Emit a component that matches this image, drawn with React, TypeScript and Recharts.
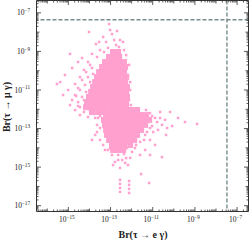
import React from "react";
import { ScatterChart, Scatter, XAxis, YAxis, ReferenceLine } from "recharts";

// exponents (log10)
const X_MAJOR = [-15, -13, -11, -9, -7];
const Y_MAJOR = [-17, -15, -13, -11, -9, -7];
const X_DOMAIN: [number, number] = [-16.51, -6.46];
const Y_DOMAIN: [number, number] = [-17.3, -6.36];

// experimental limits (dashed)
const LIMIT_E = 3.3e-8;
const LIMIT_MU = 4.4e-8;

// dense parts of the two clouds, row by row: y exponent, x exponents
const upperCoreRows = [
  { y: -9.03, x: [-12.88, -12.64] },
  { y: -9.29, x: [-13.07, -12.83, -12.59] },
  { y: -9.55, x: [-13.26, -13.02, -12.79, -12.55, -12.36] },
  { y: -9.81, x: [-13.4, -13.17, -12.93, -12.69, -12.45, -12.31] },
  { y: -10.07, x: [-13.54, -13.31, -13.07, -12.83, -12.59, -12.36] },
  { y: -10.33, x: [-13.64, -13.4, -13.17, -12.93, -12.69, -12.45, -12.26] },
  { y: -10.59, x: [-13.73, -13.5, -13.26, -13.02, -12.79, -12.55, -12.31] },
  { y: -10.85, x: [-13.83, -13.59, -13.35, -13.12, -12.88, -12.64, -12.4, -12.22] },
  { y: -11.1, x: [-13.92, -13.69, -13.45, -13.21, -12.97, -12.74, -12.5, -12.26] },
  { y: -11.36, x: [-14.02, -13.78, -13.54, -13.31, -13.07, -12.83, -12.59, -12.36, -12.22] },
  { y: -11.63, x: [-14.11, -13.88, -13.64, -13.4, -13.17, -12.93, -12.69, -12.45, -12.26] },
  { y: -11.89, x: [-14.16, -13.92, -13.69, -13.45, -13.21, -12.97, -12.74, -12.5, -12.26] },
  { y: -12.14, x: [-13.88, -13.59, -13.31, -13.02, -12.74] },
];

const lowerCoreRows = [
  { y: -12.04, x: [-12.93, -12.69, -12.45, -12.22, -11.98, -11.74] },
  { y: -12.3, x: [-13.21, -12.97, -12.74, -12.5, -12.26, -12.03, -11.79, -11.55, -11.31] },
  { y: -12.55, x: [-13.31, -13.07, -12.83, -12.59, -12.36, -12.12, -11.88, -11.65, -11.41, -11.17] },
  { y: -12.81, x: [-13.26, -13.02, -12.79, -12.55, -12.31, -12.07, -11.84, -11.6, -11.36] },
  { y: -13.07, x: [-13.21, -12.97, -12.74, -12.5, -12.26, -12.03, -11.79, -11.55] },
  { y: -13.33, x: [-13.17, -12.93, -12.69, -12.45, -12.22, -11.98, -11.74] },
  { y: -13.59, x: [-13.07, -12.83, -12.59, -12.36, -12.12, -11.88] },
  { y: -13.85, x: [-12.93, -12.64, -12.36, -12.07] },
  { y: -14.11, x: [-12.88, -12.64, -12.4] },
];

// scattered points around the clouds: [x exponent, y exponent]
const upperSparse: [number, number][] = [
  [-13.07, -7.58], [-14.02, -7.99], [-12.93, -8.1], [-13.35, -8.25], [-12.55, -8.41],
  [-13.69, -8.62], [-13.21, -8.51], [-12.74, -8.67], [-12.36, -8.93], [-13.5, -8.93],
  [-13.88, -9.13], [-14.35, -9.34], [-14.92, -9.13], [-14.54, -9.55], [-14.07, -9.55],
  [-13.64, -9.29], [-12.26, -9.19], [-14.82, -9.86], [-14.26, -9.96], [-13.88, -9.86],
  [-15.16, -10.22], [-14.45, -10.33], [-14.07, -10.33], [-15.39, -10.59], [-15.54, -10.69],
  [-14.68, -10.69], [-14.21, -10.74], [-15.01, -11.0], [-14.45, -11.0], [-15.25, -11.26],
  [-14.68, -11.26], [-14.35, -11.36], [-14.82, -11.52], [-14.54, -11.63], [-14.92, -11.78],
  [-14.45, -11.89], [-14.68, -12.04], [-14.26, -12.14], [-14.45, -12.3], [-14.07, -12.4],
  [-13.73, -12.45], [-12.07, -11.0], [-12.12, -11.52], [-12.17, -10.22],
  [-13.97, -9.7], [-14.16, -10.07], [-13.83, -10.17], [-14.35, -10.48], [-13.97, -10.59],
  [-14.54, -10.9], [-14.16, -11.1], [-14.63, -11.31], [-14.26, -11.52], [-13.97, -12.04],
  [-14.54, -11.83], [-13.78, -12.24], [-13.5, -12.35], [-13.21, -12.35], [-12.93, -12.4],
  [-12.64, -12.35], [-13.12, -8.82], [-12.83, -8.41], [-12.6, -8.77], [-13.31, -9.03],
  [-12.41, -8.51], [-13.02, -7.89], [-12.69, -7.94], [-13.54, -8.51], [-12.12, -9.7],
  [-12.07, -10.59], [-12.17, -11.26], [-12.03, -11.78],
];

const lowerSparse: [number, number][] = [
  [-11.13, -12.2], [-10.89, -12.45], [-10.65, -12.14], [-10.42, -12.55], [-10.18, -12.14],
  [-9.8, -12.45], [-10.56, -12.81], [-10.08, -12.87], [-10.75, -13.07], [-10.37, -13.33],
  [-8.9, -12.76], [-9.47, -12.66], [-11.13, -13.59], [-10.89, -13.85], [-10.56, -14.48],
  [-11.13, -14.37], [-11.36, -14.11], [-11.6, -14.37], [-11.27, -13.18], [-11.03, -12.87],
  [-11.41, -13.59], [-11.79, -13.85], [-12.64, -14.37], [-12.45, -14.63], [-12.26, -14.53],
  [-12.79, -14.11], [-13.12, -14.11], [-12.79, -14.73], [-12.55, -15.04], [-12.17, -14.89],
  [-11.98, -14.21], [-11.55, -15.36], [-11.17, -15.82], [-12.55, -15.66], [-12.55, -15.87],
  [-12.55, -16.08], [-12.55, -16.28], [-12.12, -15.72], [-12.12, -15.92], [-12.12, -16.13],
  [-12.12, -16.34], [-13.88, -13.59], [-13.64, -13.18], [-13.5, -12.97], [-13.73, -13.33],
  [-13.02, -14.01], [-12.74, -13.9], [-12.45, -14.11], [-12.22, -14.01], [-12.93, -14.37],
  [-12.36, -14.32], [-12.64, -14.63], [-12.88, -14.89], [-12.31, -14.78], [-12.07, -14.52],
  [-11.32, -12.04], [-11.03, -12.35], [-11.22, -12.66], [-10.79, -12.66], [-10.98, -13.18],
  [-10.65, -12.45], [-10.32, -12.97], [-11.36, -13.33], [-11.13, -12.97], [-11.6, -13.69],
  [-11.84, -14.01], [-13.59, -12.45], [-13.5, -13.59], [-13.35, -13.85], [-13.64, -12.81],
  [-13.26, -14.11],
];

const PINK = "#ffa0cf";
const FRAME = "#333";
const SERIF = "'Liberation Serif', 'DejaVu Serif', serif";

const rowsToPoints = (rows: { y: number; x: number[] }[]) =>
  rows.flatMap((r) => r.x.map((x) => ({ x, y: r.y })));
const pairsToPoints = (pairs: [number, number][]) => pairs.map(([x, y]) => ({ x, y }));

// log ticks: every decade plus the 2..9 sub-ticks
function logTicks([lo, hi]: [number, number]) {
  const out: number[] = [];
  for (let d = Math.floor(lo); d <= Math.ceil(hi); d++) {
    for (let k = 1; k <= 9; k++) {
      const v = d + Math.log10(k);
      if (v >= lo && v <= hi) out.push(v);
    }
  }
  return out;
}

function tickLen(v: number, majors: number[]) {
  const isDecade = Math.abs(v - Math.round(v)) < 1e-6;
  if (isDecade && majors.includes(Math.round(v))) return 4.5;
  if (isDecade) return 3;
  return 2;
}

function Label10({ x, y, exp, anchor }: { x: number; y: number; exp: number; anchor: "middle" | "end" }) {
  return (
    <text x={x} y={y} textAnchor={anchor} fontFamily={SERIF} fontSize={7.5} fill="#222">
      10
      <tspan dy={-3.2} fontSize={5.2}>{`\u2212${-exp}`}</tspan>
    </text>
  );
}

function BottomTick({ x, y, payload }: any) {
  const v = payload.value;
  const len = tickLen(v, X_MAJOR);
  return (
    <g>
      <line x1={x} x2={x} y1={y} y2={y - len} stroke={FRAME} strokeWidth={0.8} />
      {len > 4 && <Label10 x={x - 1.5} y={y + 10.5} exp={Math.round(v)} anchor="middle" />}
    </g>
  );
}

function TopTick({ x, y, payload }: any) {
  const len = tickLen(payload.value, X_MAJOR);
  return <line x1={x} x2={x} y1={y} y2={y + len} stroke={FRAME} strokeWidth={0.8} />;
}

function LeftTick({ x, y, payload }: any) {
  const v = payload.value;
  const len = tickLen(v, Y_MAJOR);
  return (
    <g>
      <line x1={x} x2={x + len} y1={y} y2={y} stroke={FRAME} strokeWidth={0.8} />
      {len > 4 && <Label10 x={x - 6.5} y={y + 2.6} exp={Math.round(v)} anchor="end" />}
    </g>
  );
}

function RightTick({ x, y, payload }: any) {
  const len = tickLen(payload.value, Y_MAJOR);
  return <line x1={x} x2={x - len} y1={y} y2={y} stroke={FRAME} strokeWidth={0.8} />;
}

const bigDot = (p: any) => <rect x={p.cx - 3} y={p.cy - 3} width={6} height={6} fill={PINK} />;
const smallDot = (p: any) => <rect x={p.cx - 1.25} y={p.cy - 1.25} width={2.5} height={2.5} fill={PINK} />;

export default function App() {
  const xTicks = logTicks(X_DOMAIN);
  const yTicks = logTicks(Y_DOMAIN);
  const axisLine = { stroke: FRAME, strokeWidth: 1 };

  return (
    <div style={{ position: "absolute", left: 0, top: 0, width: 249, height: 240 }}>
      <ScatterChart width={249} height={240} margin={{ top: -0.5, right: -0.5, bottom: 27.5, left: 35.5 }}>
        <XAxis
          xAxisId="b" type="number" dataKey="x" domain={X_DOMAIN} allowDataOverflow
          ticks={xTicks} interval={0} height={1} tickSize={0} tickMargin={0}
          tickLine={false} axisLine={axisLine} tick={<BottomTick />}
        />
        <XAxis
          xAxisId="t" orientation="top" type="number" dataKey="x" domain={X_DOMAIN} allowDataOverflow
          ticks={xTicks} interval={0} height={1} tickSize={0} tickMargin={0}
          tickLine={false} axisLine={axisLine} tick={<TopTick />}
        />
        <YAxis
          yAxisId="l" type="number" dataKey="y" domain={Y_DOMAIN} allowDataOverflow
          ticks={yTicks} interval={0} width={1} tickSize={0} tickMargin={0}
          tickLine={false} axisLine={axisLine} tick={<LeftTick />}
        />
        <YAxis
          yAxisId="r" orientation="right" type="number" dataKey="y" domain={Y_DOMAIN} allowDataOverflow
          ticks={yTicks} interval={0} width={1} tickSize={0} tickMargin={0}
          tickLine={false} axisLine={axisLine} tick={<RightTick />}
        />
        <Scatter xAxisId="b" yAxisId="l" data={pairsToPoints(upperSparse)} shape={smallDot} isAnimationActive={false} />
        <Scatter xAxisId="b" yAxisId="l" data={pairsToPoints(lowerSparse)} shape={smallDot} isAnimationActive={false} />
        <Scatter xAxisId="b" yAxisId="l" data={rowsToPoints(upperCoreRows)} shape={bigDot} isAnimationActive={false} />
        <Scatter xAxisId="b" yAxisId="l" data={rowsToPoints(lowerCoreRows)} shape={bigDot} isAnimationActive={false} />
        <ReferenceLine
          xAxisId="t" yAxisId="r" y={Math.log10(LIMIT_MU)}
          stroke="#778c8c" strokeWidth={1.4} strokeDasharray="4 2"
        />
        <ReferenceLine
          xAxisId="t" yAxisId="r" x={Math.log10(LIMIT_E)}
          stroke="#778c8c" strokeWidth={1.4} strokeDasharray="4 2"
        />
        <text x={143} y={238} textAnchor="middle" fontFamily={SERIF} fontSize={10} fontWeight="bold" fill="#222">
          {"Br(\u03c4 \u2192 e \u03b3)"}
        </text>
        <text
          x={10.3} y={107} textAnchor="middle" transform="rotate(-90 10.3 107)"
          fontFamily={SERIF} fontSize={10} fontWeight="bold" fill="#222"
        >
          {"Br(\u03c4 \u2192 \u03bc \u03b3)"}
        </text>
      </ScatterChart>
    </div>
  );
}
